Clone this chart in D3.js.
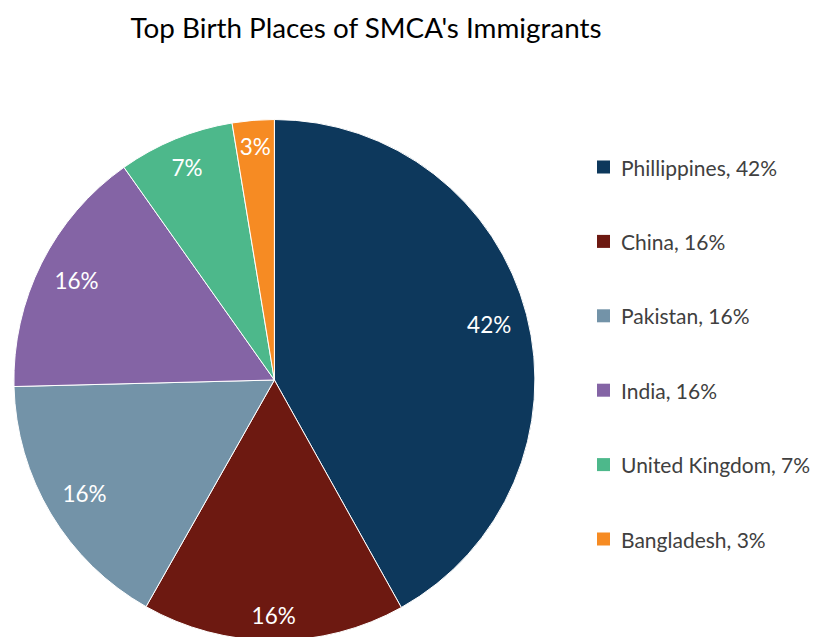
<!DOCTYPE html>
<html>
<head>
<meta charset="utf-8">
<script src="https://cdn.jsdelivr.net/npm/d3@7"></script>
<style>
  html, body { margin: 0; padding: 0; background: #fff; overflow: hidden; }
  svg { display: block; font-family: Lato, "Open Sans", sans-serif; }
</style>
</head>
<body>
<div id="chart"></div>
<script>
const categories = ["Phillippines", "China", "Pakistan", "India", "United Kingdom", "Bangladesh"];
// slice sizes as drawn in the picture (percent)
const shares = [41.9, 16.3, 16.4, 15.6, 7.2, 2.6];
// percentages printed on the labels
const labels = [42, 16, 16, 16, 7, 3];
const colors = ["#0d385c", "#6d1911", "#7393a8", "#8464a5", "#4db88b", "#f68b23"];

const width = 814, height = 637;
const cx = 274.4, cy = 380, r = 260.5;

const svg = d3.select("#chart").append("svg")
  .attr("width", width)
  .attr("height", height);

svg.append("text")
  .attr("x", 366)
  .attr("y", 38)
  .attr("text-anchor", "middle")
  .attr("font-size", 27.8)
  .attr("fill", "#000")
  .text("Top Birth Places of SMCA's Immigrants");

const data = categories.map((c, i) => ({ name: c, value: shares[i], label: labels[i], color: colors[i] }));

const pie = d3.pie().value(d => d.value).sort(null);
const arc = d3.arc().innerRadius(0).outerRadius(r);

const g = svg.append("g").attr("transform", `translate(${cx},${cy})`);
const arcs = pie(data);

g.selectAll("path")
  .data(arcs)
  .enter()
  .append("path")
  .attr("d", arc)
  .attr("fill", d => d.data.color)
  .attr("stroke", "#fff")
  .attr("stroke-width", 1);

// labels placed "inside end": box pushed out until it touches radius R0
const R0 = 246;
g.selectAll("text")
  .data(arcs)
  .enter()
  .append("text")
  .attr("text-anchor", "middle")
  .attr("dominant-baseline", "central")
  .attr("font-size", 22.5)
  .attr("fill", "#fff")
  .text(d => d.data.label + "%")
  .each(function (d) {
    const bb = this.getBBox();
    const a = (d.startAngle + d.endAngle) / 2;
    const s = Math.sin(a), c = Math.cos(a);
    const dist = R0 - (Math.abs(s) * bb.width / 2 + Math.abs(c) * bb.height / 2 * 0.8);
    d3.select(this).attr("transform", `translate(${s * dist},${-c * dist})`);
  });

// legend
const legend = svg.append("g");
const ly = d3.scalePoint().domain(categories).range([167, 539]);

const items = legend.selectAll("g")
  .data(data)
  .enter()
  .append("g")
  .attr("transform", d => `translate(597,${ly(d.name)})`);

items.append("rect")
  .attr("x", 0)
  .attr("y", -6.5)
  .attr("width", 13)
  .attr("height", 13)
  .attr("fill", d => d.color);

items.append("text")
  .attr("x", 24)
  .attr("y", 0)
  .attr("dominant-baseline", "central")
  .attr("font-size", 21)
  .attr("fill", "#404040")
  .text(d => `${d.name}, ${d.label}%`);
</script>
</body>
</html>
